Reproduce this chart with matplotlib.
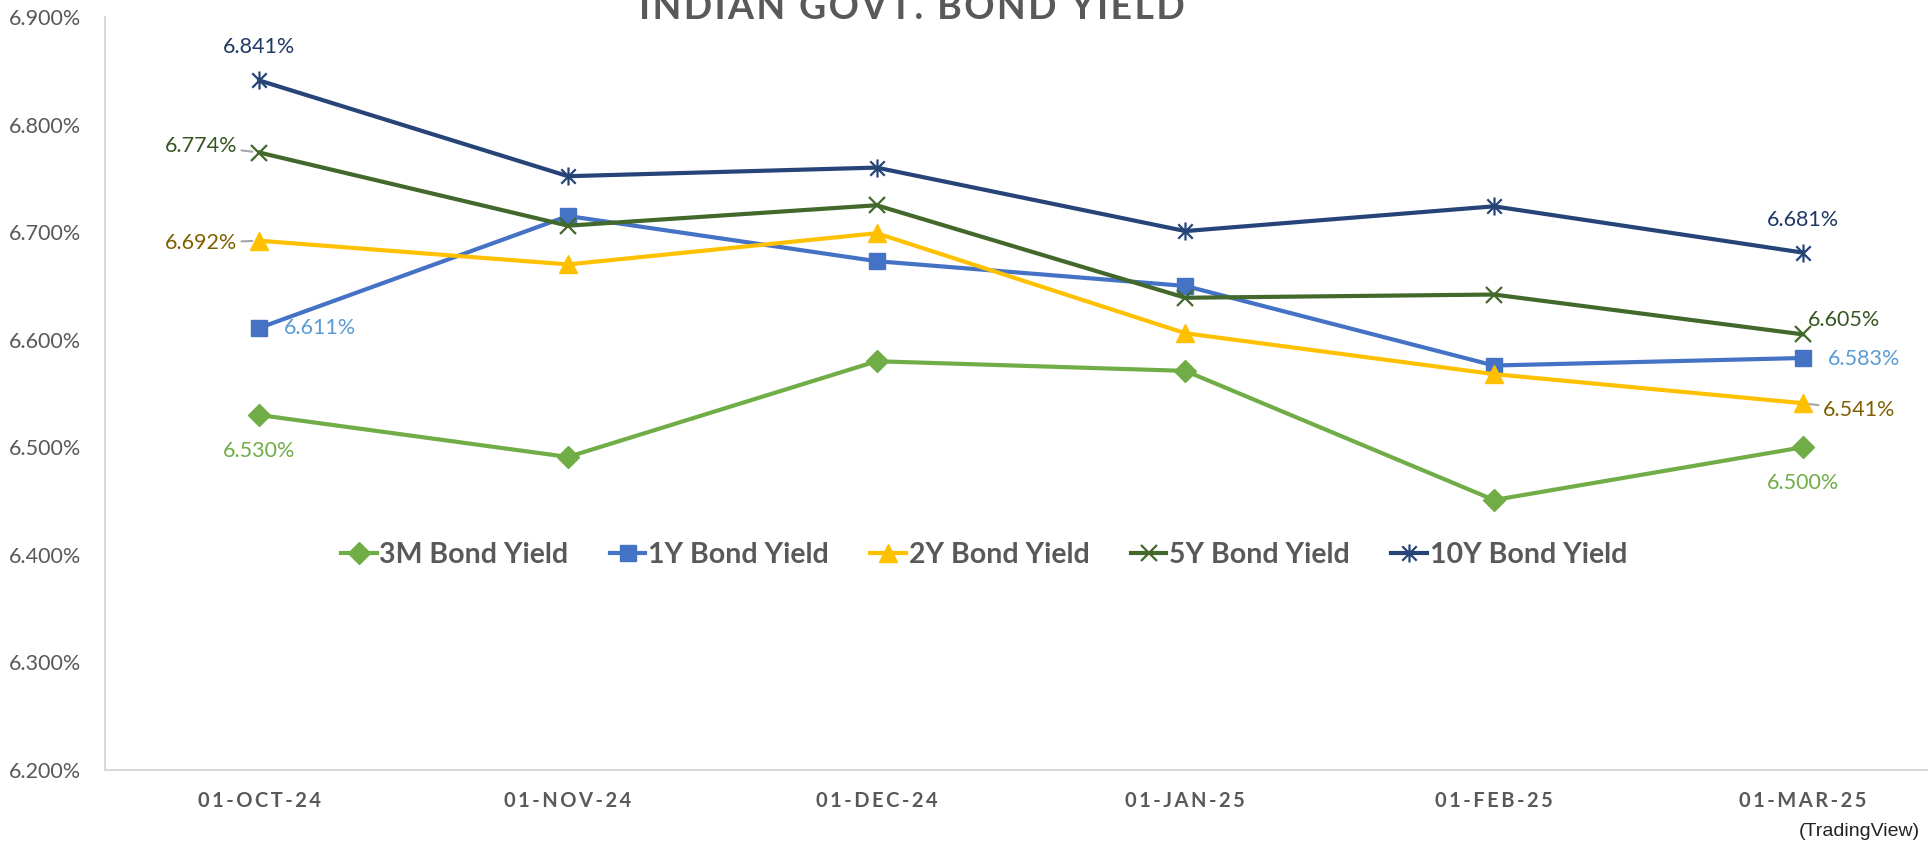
import numpy as np
import matplotlib.pyplot as plt
from matplotlib.path import Path

dates = ["01-OCT-24", "01-NOV-24", "01-DEC-24", "01-JAN-25", "01-FEB-25", "01-MAR-25"]

y3m = [6.530, 6.491, 6.580, 6.571, 6.451, 6.500]
y1y = [6.611, 6.715, 6.673, 6.650, 6.576, 6.583]
y2y = [6.692, 6.670, 6.699, 6.606, 6.568, 6.541]
y5y = [6.774, 6.706, 6.725, 6.639, 6.642, 6.605]
y10y = [6.841, 6.752, 6.760, 6.701, 6.724, 6.681]

GREY = "#595959"
FONT = ["Lato", "DejaVu Sans"]
plt.rcParams["font.family"] = FONT

# excel style star: an x with a vertical bar through it
star = Path([(-1, -1), (1, 1), (-1, 1), (1, -1), (0, -1.25), (0, 1.25)],
            [Path.MOVETO, Path.LINETO, Path.MOVETO, Path.LINETO, Path.MOVETO, Path.LINETO])

series = [
    ("3M Bond Yield", y3m, "#70AD47", "D", 11, "#70AD47"),
    ("1Y Bond Yield", y1y, "#4472C4", "s", 12, "#5B9BD5"),
    ("2Y Bond Yield", y2y, "#FFC000", "^", 13, "#7F6000"),
    ("5Y Bond Yield", y5y, "#43682B", "x", 12, "#375623"),
    ("10Y Bond Yield", y10y, "#264478", star, 13, "#1F3864"),
]

fig = plt.figure(figsize=(19.28, 8.49), dpi=100)
ax = fig.add_axes([105 / 1928, 79 / 849, (1957 - 105) / 1928, 753 / 849])

x = np.arange(len(dates))
for name, vals, col, mk, ms, _ in series:
    hollow = mk in ("x",) or isinstance(mk, Path)
    ax.plot(x, vals, color=col, lw=3, marker=mk, ms=ms, label=name,
            mfc="none" if hollow else col, mec=col, mew=1.6 if hollow else 1)

# end point labels: (series index, point index, dx, dy, ha, leader line)
labels = [
    (0, 0, 0, -36, "center", False), (0, 5, 0, -36, "center", False),
    (1, 0, 25, 0, "left", False), (1, 5, 25, -1, "left", False),
    (2, 0, -22, -2, "right", True), (2, 5, 20, -7, "left", True),
    (3, 0, -22, 7, "right", True), (3, 5, 5, 14, "left", False),
    (4, 0, 0, 33, "center", False), (4, 5, 0, 33, "center", False),
]
for si, pi, dx, dy, ha, lead in labels:
    vals, lcol = series[si][1], series[si][5]
    arrow = dict(arrowstyle="-", color="#A6A6A6", lw=1.5, shrinkA=1, shrinkB=5) if lead else None
    ax.annotate(f"{vals[pi]:.3f}%", (x[pi], vals[pi]), xytext=(dx, dy),
                textcoords="offset pixels", ha=ha, va="center", fontsize=15.5,
                color=lcol, arrowprops=arrow)

ax.set_xlim(-0.5, 5.5)
ax.set_ylim(6.2, 6.9)
ax.set_yticks(np.arange(6.2, 6.901, 0.1))
ax.set_yticklabels([f"{v:.3f}%" for v in np.arange(6.2, 6.901, 0.1)], fontsize=15.5, color=GREY)
ax.set_xticks(x)
ax.set_xticklabels(["\u2009".join(d) for d in dates], fontsize=14.5, fontweight="bold", color=GREY)
ax.tick_params(axis="both", length=0)
ax.tick_params(axis="y", pad=17)
ax.tick_params(axis="x", pad=15)
for s in ("top", "right"):
    ax.spines[s].set_visible(False)
for s in ("left", "bottom"):
    ax.spines[s].set_color("#D9D9D9")
    ax.spines[s].set_linewidth(1.5)

ax.legend(loc="center", bbox_to_anchor=(0.4746, 0.2855), ncol=5, frameon=False,
          handlelength=1.25, handletextpad=0.1, columnspacing=1.45,
          prop={"family": FONT, "weight": "bold", "size": 20.5}, labelcolor=GREY)

fig.text(912 / 1928, 1 - 19 / 849, "\u200a".join("INDIAN GOVT. BOND YIELD"),
         ha="center", va="baseline", fontsize=27, fontweight="bold", color=GREY)
fig.text(1920 / 1928, 1 - 831 / 849, "(TradingView)", ha="right", va="center",
         fontsize=14, family="Liberation Sans", color="#222222")

fig.savefig("out.png", dpi=100)
